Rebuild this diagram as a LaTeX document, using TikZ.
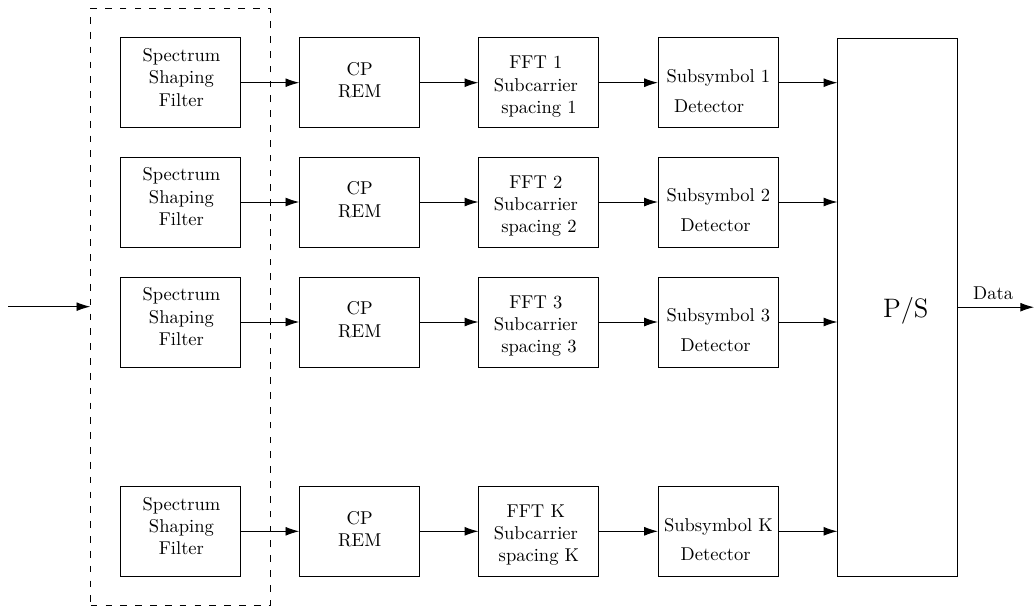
\documentclass[tikz,border=0pt]{standalone}
\usetikzlibrary{arrows.meta}
\begin{document}
\begin{tikzpicture}[x=0.5394pt, y=-0.5394pt,
  blk/.style={draw, line width=0.5pt, minimum width=64.73pt, minimum height=48.55pt, inner sep=0pt},
  lbl/.style={align=center, inner sep=0pt},
  flow/.style={-{Latex[length=7.4pt,width=4.8pt]}, line width=0.5pt},
  bankbox/.style={draw, line width=0.5pt, dash pattern=on 3.6pt off 4.4pt, inner sep=0pt,
    minimum width=96.72pt, minimum height=321.86pt},
]
\useasboundingbox (0,0) rectangle (1035,608);

% filter bank enclosure and input
\node[bankbox] (bank) at (180.35,306.65) {};
\coordinate (in) at (8,306.65);
\draw[flow] (in) -- (bank.west);

% parallel-to-serial converter and output
\node[draw, line width=0.5pt, inner sep=0pt, minimum width=64.73pt, minimum height=290.4pt] (ps) at (897.8,307.2) {};
\node[font=\Large, inner sep=0pt] (pst) at ([xshift=4.3pt, yshift=-2pt]ps.center) {P/S};
\coordinate (out) at (1034,307.2);
\draw[flow] (ps.east) -- node[above, pos=0.46, inner sep=3.9pt] (data) {Data} (out);

% one processing chain per subband
\foreach \r/\k/\y/\dp in {1/1/82.7/10pt, 2/2/202/3pt, 3/3/322/3pt, 4/K/531.3/3pt}{
  \node[blk] (s\r) at (180.3,\y) {};
  \node[blk] (c\r) at (359.7,\y) {};
  \node[blk] (f\r) at (538.8,\y) {};
  \node[blk] (d\r) at (718.4,\y) {};
  \node[lbl] (st\r) at ([xshift=0.6pt, yshift=2.4pt]s\r.center) {Spectrum\\Shaping\\Filter};
  \node[lbl] (ct\r) at ([yshift=0.8pt]c\r.center) {CP\\REM};
  \node[lbl] (ft\r) at ([xshift=-1.6pt, yshift=-1.6pt]f\r.center) {FFT \k\\Subcarrier\\\hspace*{3.33pt}spacing \k};
  \node[lbl] (dt\r) at ([yshift=-4.9pt]d\r.center) {Subsymbol \k\\[4pt]Detector\hspace*{\dp}};
  \draw[flow] (s\r.east) -- (c\r.west);
  \draw[flow] (c\r.east) -- (f\r.west);
  \draw[flow] (f\r.east) -- (d\r.west);
  \draw[flow] (d\r.east) -- (d\r.east -| ps.west);
}
\end{tikzpicture}
\end{document}
